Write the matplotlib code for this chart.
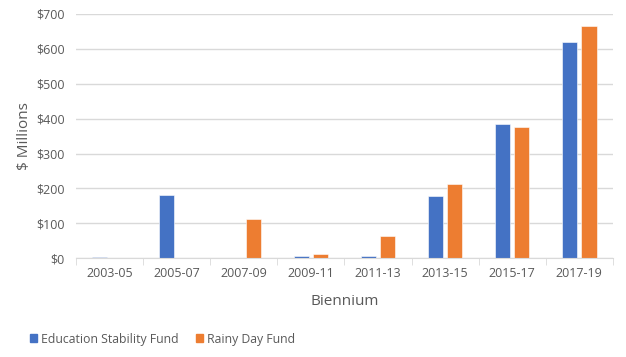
import numpy as np
import matplotlib.pyplot as plt
from matplotlib.patches import Patch

# Data
biennia = ["2003-05", "2005-07", "2007-09", "2009-11", "2011-13", "2013-15", "2015-17", "2017-19"]
esf = [3, 180, 0, 6, 7, 179, 384, 620]
rdf = [0, 0, 112, 12, 64, 213, 376, 666]
y_ticks = [0, 100, 200, 300, 400, 500, 600, 700]

blue = "#4472C4"
orange = "#ED7D31"
grey = "#595959"

plt.rcParams['font.family'] = ['Open Sans', 'DejaVu Sans']

fig = plt.figure(figsize=(6.26, 3.57), dpi=100)
ax = fig.add_axes([0.1214, 0.2765, 0.8576, 0.6843])

x = np.arange(len(biennia))
w = 0.225
off = 0.145
ax.bar(x - off, esf, w, color=blue, edgecolor="white", linewidth=0.4, zorder=3)
ax.bar(x + off, rdf, w, color=orange, edgecolor="white", linewidth=0.4, zorder=3)

ax.set_xlim(-0.5, len(biennia) - 0.5)
ax.set_ylim(0, 700)
ax.set_yticks(y_ticks)
ax.set_yticklabels(["$%d" % v for v in y_ticks])
ax.set_xticks(x)
ax.set_xticklabels(biennia)
ax.set_xticks(np.arange(-0.5, len(biennia)), minor=True)

ax.grid(axis="y", color="#d9d9d9", linewidth=1, zorder=0)
for s in ["top", "right", "left"]:
    ax.spines[s].set_visible(False)
ax.spines["bottom"].set_color("#d9d9d9")
ax.spines["bottom"].set_zorder(4)

ax.tick_params(axis="y", length=0, labelsize=9, labelcolor=grey, pad=8)
ax.tick_params(axis="x", which="major", length=0, labelsize=9, labelcolor=grey, pad=6)
ax.tick_params(axis="x", which="minor", length=5, color="#d9d9d9")

ax.set_xlabel("Biennium", fontsize=11, color=grey, labelpad=10)
ax.set_ylabel("$ Millions", fontsize=11, color=grey, labelpad=3)

handles = [Patch(color=blue), Patch(color=orange)]
fig.legend(handles, ["Education Stability Fund", "Rainy Day Fund"],
           loc="center left", bbox_to_anchor=(0.03, 0.05), ncol=2, frameon=False,
           fontsize=8.8, labelcolor=grey, handlelength=0.6, handleheight=0.6,
           handletextpad=0.3, columnspacing=1.4)

fig.savefig("out.png", dpi=100)
